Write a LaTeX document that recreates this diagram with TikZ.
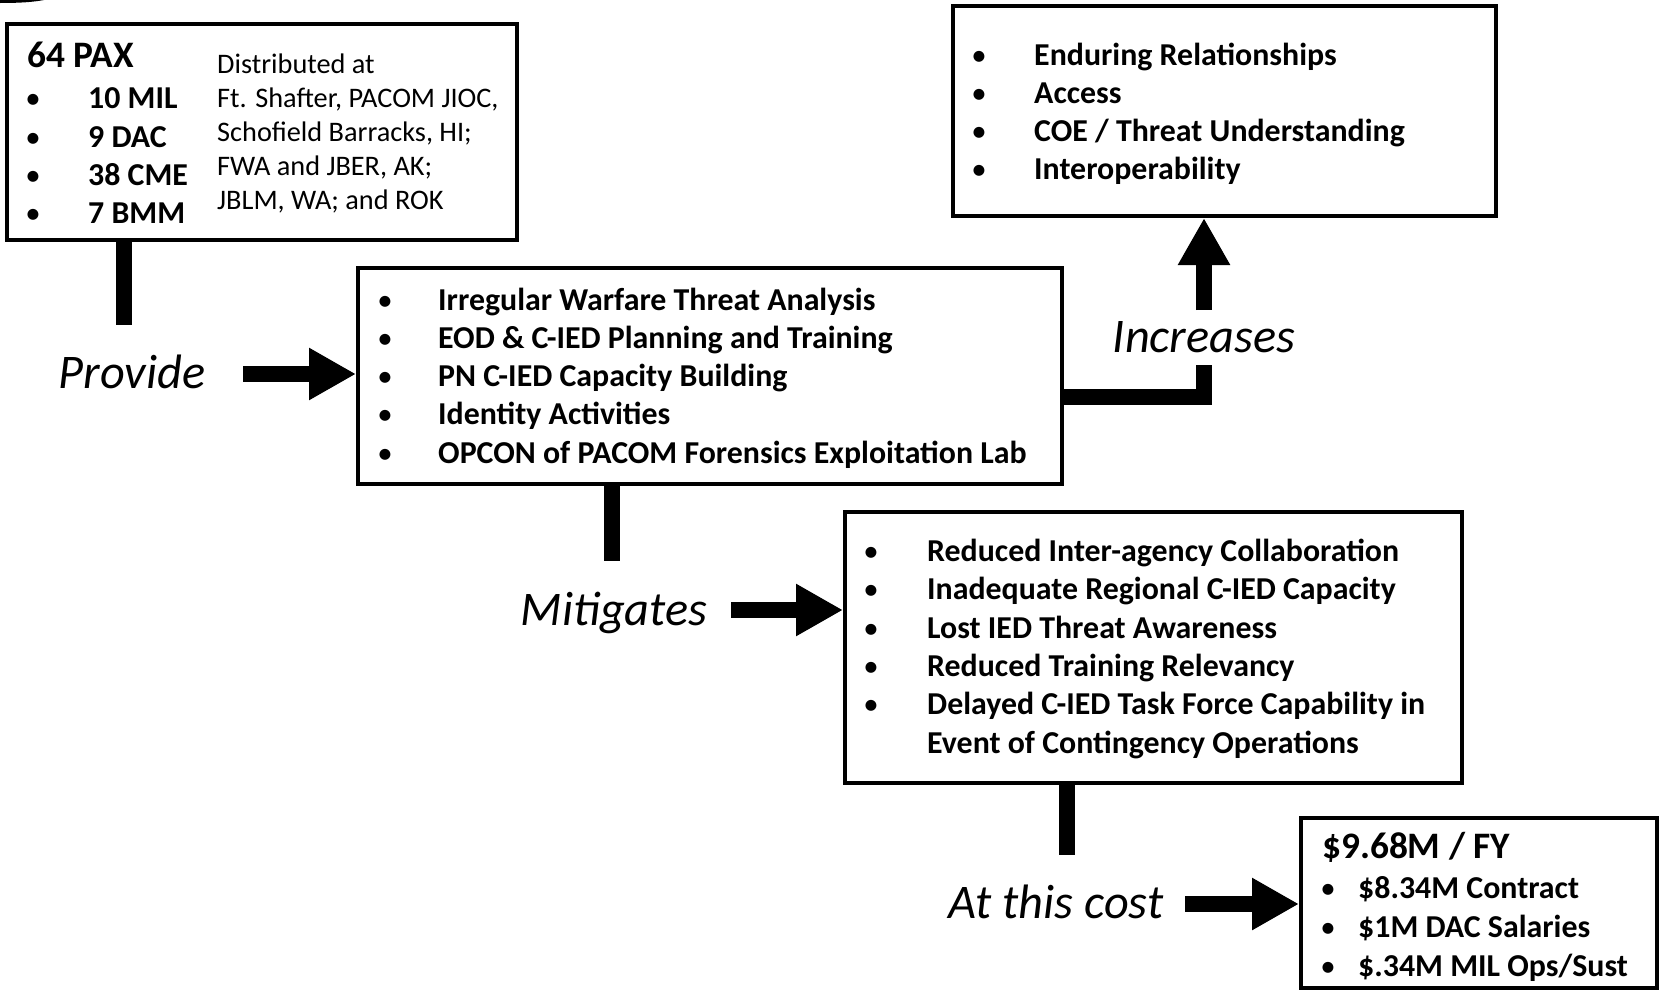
\documentclass[tikz,border=0pt]{standalone}
\usepackage{fontspec}
\setmainfont{Carlito}
\usetikzlibrary{arrows.meta,fit}
\begin{document}
\begin{tikzpicture}[x=1bp,y=-1bp,
  box/.style={draw, line width=4bp, inner sep=0pt},
  bar/.style={line width=16bp},
  arr/.style={line width=16bp, -{Triangle[length=47bp,width=49bp]}},
  txt/.style={anchor=base west, inner sep=0pt, font=\fontsize{32}{38}\selectfont\bfseries},
  bul/.style={anchor=base, inner sep=0pt, font=\fontsize{31}{37}\selectfont},
  ttl/.style={anchor=base west, inner sep=0pt, font=\fontsize{37.5}{44}\selectfont\bfseries},
  reg/.style={anchor=base west, inner sep=0pt, font=\fontsize{28.4}{34}\selectfont},
  lbl/.style={anchor=base, inner sep=0pt, font=\fontsize{48.5}{58}\selectfont\itshape},
]
\fill[white] (0,0) rectangle (1659,990);
\useasboundingbox (0,0) rectangle (1659,990);
\fill (0,0) -- (44,0) .. controls (34,2) and (20,3) .. (0,3) -- cycle;

% Box 1
\node[box, fit={(7,24) (517,240)}] (b1) {};
\node[ttl] (b1h) at (27,67) {64 PAX};
\node[bul] (b1b1) at (33,108) {•};
\node[txt] (b1t1) at (88,108) {10 MIL};
\node[bul] (b1b2) at (33,147) {•};
\node[txt] (b1t2) at (88,147) {9 DAC};
\node[bul] (b1b3) at (33,185) {•};
\node[txt] (b1t3) at (88,185) {38 CME};
\node[bul] (b1b4) at (33,223) {•};
\node[txt] (b1t4) at (88,223) {7 BMM};
\node[reg] (b1r1) at (217,73) {Distributed at};
\node[reg] (b1r2) at (217,107) {Ft. Shafter, PACOM JIOC,};
\node[reg] (b1r3) at (217,141) {Schofield Barracks, HI;};
\node[reg] (b1r4) at (217,175) {FWA and JBER, AK;};
\node[reg] (b1r5) at (217,209) {JBLM, WA; and ROK};

% Box 2
\node[box, fit={(358,268) (1062,484)}] (b2) {};
\node[bul] (b2b1) at (385,310) {•};
\node[txt] (b2t1) at (438,310) {Irregular Warfare Threat Analysis};
\node[bul] (b2b2) at (385,348) {•};
\node[txt] (b2t2) at (438,348) {EOD \& C-IED Planning and Training};
\node[bul] (b2b3) at (385,386) {•};
\node[txt] (b2t3) at (438,386) {PN C-IED Capacity Building};
\node[bul] (b2b4) at (385,424) {•};
\node[txt] (b2t4) at (438,424) {Identity Activities};
\node[bul] (b2b5) at (385,463) {•};
\node[txt] (b2t5) at (438,463) {OPCON of PACOM Forensics Exploitation Lab};

% Box 3
\node[box, fit={(953,6) (1496,216)}] (b3) {};
\node[bul] (b3b1) at (979,65) {•};
\node[txt] (b3t1) at (1034,65) {Enduring Relationships};
\node[bul] (b3b2) at (979,103) {•};
\node[txt] (b3t2) at (1034,103) {Access};
\node[bul] (b3b3) at (979,141) {•};
\node[txt] (b3t3) at (1034,141) {COE / Threat Understanding};
\node[bul] (b3b4) at (979,179) {•};
\node[txt] (b3t4) at (1034,179) {Interoperability};

% Box 4
\node[box, fit={(845,512) (1462,783)}] (b4) {};
\node[bul] (b4b1) at (871,561) {•};
\node[txt] (b4t1) at (927,561) {Reduced Inter-agency Collaboration};
\node[bul] (b4b2) at (871,599) {•};
\node[txt] (b4t2) at (927,599) {Inadequate Regional C-IED Capacity};
\node[bul] (b4b3) at (871,638) {•};
\node[txt] (b4t3) at (927,638) {Lost IED Threat Awareness};
\node[bul] (b4b4) at (871,676) {•};
\node[txt] (b4t4) at (927,676) {Reduced Training Relevancy};
\node[bul] (b4b5) at (871,714) {•};
\node[txt] (b4t5) at (927,714) {Delayed C-IED Task Force Capability in};
\node[txt] (b4t6) at (927,753) {Event of Contingency Operations};

% Box 5
\node[box, fit={(1301,818) (1657,988)}] (b5) {};
\node[ttl] (b5h) at (1322,858) {\$9.68M / FY};
\node[bul] (b5b1) at (1328,898) {•};
\node[txt] (b5t1) at (1358,898) {\$8.34M Contract};
\node[bul] (b5b2) at (1328,937) {•};
\node[txt] (b5t2) at (1358,937) {\$1M DAC Salaries};
\node[bul] (b5b3) at (1328,976) {•};
\node[txt] (b5t3) at (1358,976) {\$.34M MIL Ops/Sust};

% Labels
\node[lbl] (lp) at (132,388) {Provide};
\node[lbl] (li) at (1204,352) {Increases};
\node[lbl] (lm) at (614,625) {Mitigates};
\node[lbl] (lc) at (1056,918) {At this cost};

% Connectors
\coordinate (c1) at (124,325);
\draw[bar] (c1 |- b1.south) -- (c1);
\coordinate (pa) at (243,374);
\draw[arr] (pa) -- (pa -| b2.west);

\coordinate (ic) at (1204,365);
\draw[bar, line join=miter] (b2.east |- 0,397) -- (ic |- 0,397) -- (ic);
\coordinate (ia) at (1204,310);
\draw[arr] (ia) -- (ia |- b3.south);

\coordinate (mb) at (612,561);
\draw[bar] (mb |- b2.south) -- (mb);
\coordinate (ma) at (731,610);
\draw[arr] (ma) -- (ma -| b4.west);

\coordinate (cb) at (1067,855);
\draw[bar] (cb |- b4.south) -- (cb);
\coordinate (ca) at (1185,904);
\draw[arr] (ca) -- (ca -| b5.west);
\end{tikzpicture}
\end{document}
